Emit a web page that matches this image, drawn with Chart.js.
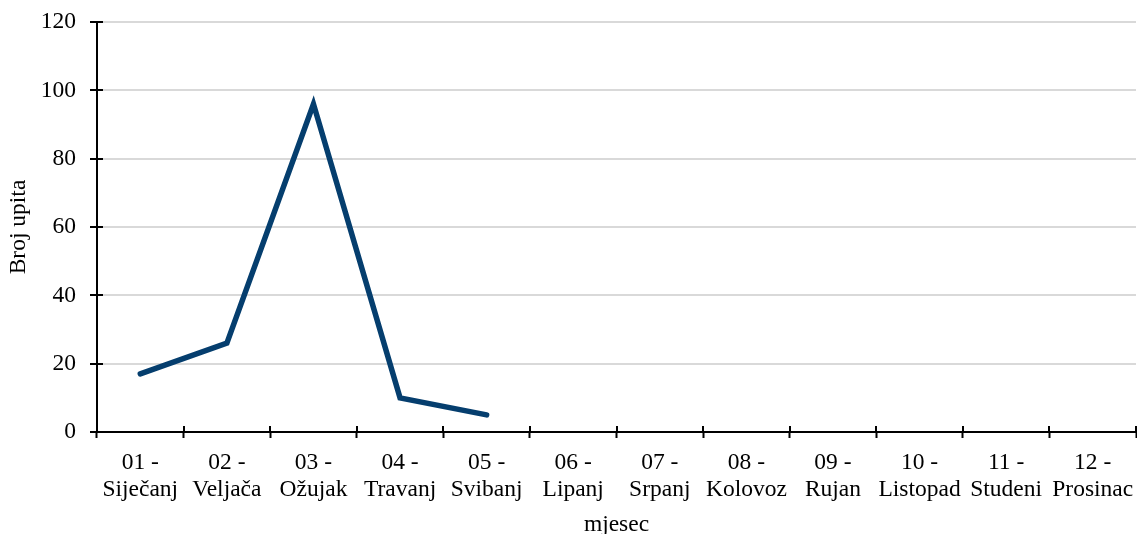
<!DOCTYPE html>
<html>
<head>
<meta charset="utf-8">
<script src="https://cdn.jsdelivr.net/npm/chart.js@4/dist/chart.umd.min.js"></script>
<style>
  html, body { margin: 0; padding: 0; background: #ffffff; }
  #wrap { width: 1137px; height: 534px; position: relative; }
</style>
</head>
<body>
<div id="wrap"><canvas id="c"></canvas></div>
<script>
const categories = [
  ["01 -", "Siječanj"], ["02 -", "Veljača"], ["03 -", "Ožujak"], ["04 -", "Travanj"],
  ["05 -", "Svibanj"], ["06 -", "Lipanj"], ["07 -", "Srpanj"], ["08 -", "Kolovoz"],
  ["09 -", "Rujan"], ["10 -", "Listopad"], ["11 -", "Studeni"], ["12 -", "Prosinac"]
];
const brojUpita = [17, 26, 96, 10, 5, null, null, null, null, null, null, null];
const yTicks = [0, 20, 40, 60, 80, 100, 120];
const xTitle = "mjesec";
const yTitle = "Broj upita";

const FONT = "'Liberation Serif', 'Times New Roman', serif";
const FS = 23.5;

const crossTicks = {
  id: 'crossTicks',
  beforeDatasetsDraw(chart) {
    const ctx = chart.ctx;
    const xs = chart.scales.x, ys = chart.scales.y;
    ctx.save();
    ctx.strokeStyle = '#000';
    ctx.lineWidth = 2;
    ctx.beginPath();
    ys.ticks.forEach((t, i) => {
      const y = Math.round(ys.getPixelForTick(i));
      ctx.moveTo(ys.right, y);
      ctx.lineTo(ys.right + 6, y);
    });
    for (let i = 0; i <= categories.length; i++) {
      const x = Math.round(xs.getPixelForValue(i - 0.5));
      ctx.moveTo(x, xs.top);
      ctx.lineTo(x, xs.top - 6);
    }
    ctx.stroke();
    ctx.restore();
  }
};

new Chart(document.getElementById('c'), {
  type: 'line',
  data: {
    labels: categories,
    datasets: [{
      label: yTitle,
      data: brojUpita,
      borderColor: '#053e6e',
      backgroundColor: '#053e6e',
      borderWidth: 5.5,
      borderCapStyle: 'round',
      borderJoinStyle: 'miter',
      pointRadius: 0,
      pointHoverRadius: 0,
      tension: 0,
      spanGaps: false
    }]
  },
  options: {
    responsive: true,
    maintainAspectRatio: false,
    animation: false,
    layout: { padding: { top: 22, right: 1, left: 0, bottom: 0 } },
    plugins: {
      legend: { display: false },
      tooltip: { enabled: false }
    },
    scales: {
      x: {
        offset: true,
        grid: {
          offset: true,
          drawOnChartArea: false,
          drawTicks: true,
          tickLength: 6,
          tickColor: '#000',
          tickWidth: 2
        },
        border: { display: true, color: '#000', width: 2 },
        ticks: {
          color: '#000',
          font: { family: FONT, size: FS, lineHeight: 1.12 },
          padding: 12,
          maxRotation: 0,
          minRotation: 0,
          autoSkip: false
        },
        title: {
          display: true,
          text: xTitle,
          color: '#000',
          font: { family: FONT, size: FS, lineHeight: 0.77 },
          padding: { top: 0, bottom: 0 }
        },
        afterFit(scale) {
          scale.height = 102;
          scale.paddingLeft = 0;
          scale.paddingRight = 0;
        }
      },
      y: {
        min: 0,
        max: 120,
        afterBuildTicks(scale) { scale.ticks = yTicks.map(v => ({ value: v })); },
        grid: {
          color: '#d9d9d9',
          lineWidth: 2,
          drawTicks: true,
          tickLength: 7,
          tickColor: '#000',
          tickWidth: 2
        },
        border: { display: true, color: '#000', width: 2 },
        ticks: {
          color: '#000',
          font: { family: FONT, size: FS },
          padding: 14
        },
        title: {
          display: true,
          text: yTitle,
          color: '#000',
          font: { family: FONT, size: FS, lineHeight: 1.2 },
          padding: { top: 5, bottom: 0 }
        },
        afterFit(scale) {
          scale.width = 97;
          scale.paddingTop = 0;
          scale.paddingBottom = 0;
        }
      }
    }
  },
  plugins: [crossTicks]
});
</script>
</body>
</html>
